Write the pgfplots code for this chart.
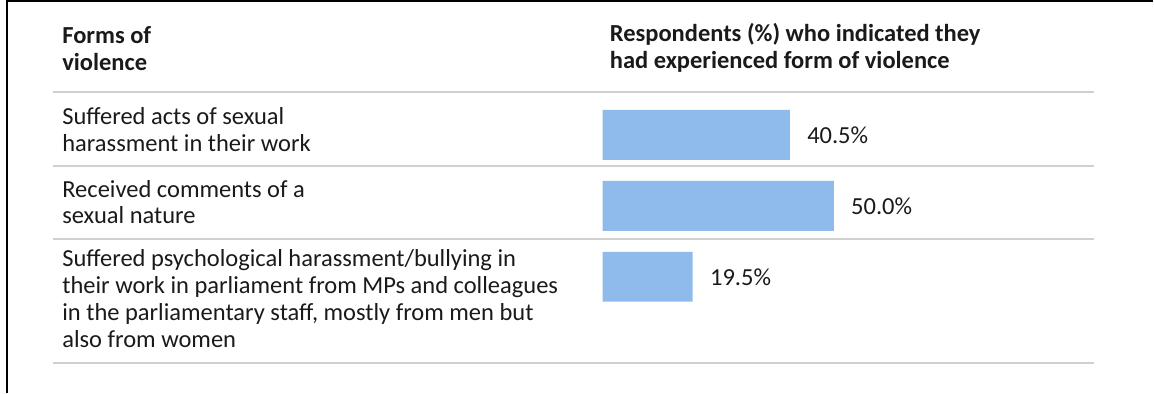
\documentclass[border=0pt]{standalone}
\usepackage{pgfplots}
\pgfplotsset{compat=1.18}
\usepackage{fontspec}
\setmainfont{Carlito}
\definecolor{barblue}{RGB}{143,187,236}
\definecolor{rulegray}{RGB}{208,208,208}
\definecolor{txt}{RGB}{26,26,26}
\newcommand\tl[3]{\node[anchor=base west, inner sep=0pt, font=\fontsize{12.25}{14}\selectfont, text=txt] at (axis cs:#1,#2) {#3};}
\newcommand\tb[3]{\node[anchor=base west, inner sep=0pt, font=\fontsize{12.25}{14}\selectfont\bfseries, text=txt] at (axis cs:#1,#2) {#3};}
\begin{document}
\begin{tikzpicture}
\begin{axis}[
 scale only axis, width=577pt, height=196.5pt,
 xmin=-130.24, xmax=119.0, ymin=0, ymax=393, y dir=reverse,
 hide axis, clip=false,
 xbar, bar width=50,
 /pgf/number format/assume math mode=true,
 point meta=x,
 nodes near coords={\pgfmathprintnumber[fixed,fixed zerofill,precision=1]{\pgfplotspointmeta}\%},
 nodes near coords style={anchor=west, inner sep=0pt, xshift=8.5pt, font=\fontsize{12.25}{14}\selectfont, text=txt},
]
\path (rel axis cs:0,0) (rel axis cs:1,1);
\draw[line width=1pt] (axis cs:-128.62,393) -- (axis cs:-128.62,1) -- (axis cs:119,1);
\foreach \yy in {92,166,239,363} {
  \edef\tmp{\noexpand\draw[rulegray, line width=1pt] (axis cs:-118.79,\yy) -- (axis cs:106.26,\yy);}
  \tmp
}
\tb{-116.85}{44}{Forms of}
\tb{-116.85}{71}{violence}
\tb{1.51}{42}{Respondents (\%) who indicated they}
\tb{1.51}{69}{had experienced form of violence}
\tl{-116.85}{125}{Suffered acts of sexual}
\tl{-116.85}{152}{harassment in their work}
\tl{-116.85}{198}{Received comments of a}
\tl{-116.85}{224}{sexual nature}
\tl{-116.85}{267}{Suffered psychological harassment/bullying in}
\tl{-116.85}{294}{their work in parliament from MPs and colleagues}
\tl{-116.85}{321}{in the parliamentary staff, mostly from men but}
\tl{-116.85}{348}{also from women}
\addplot[fill=barblue, draw=none] coordinates {(40.5,135) (50,206) (19.5,277)};
\end{axis}
\end{tikzpicture}
\end{document}
